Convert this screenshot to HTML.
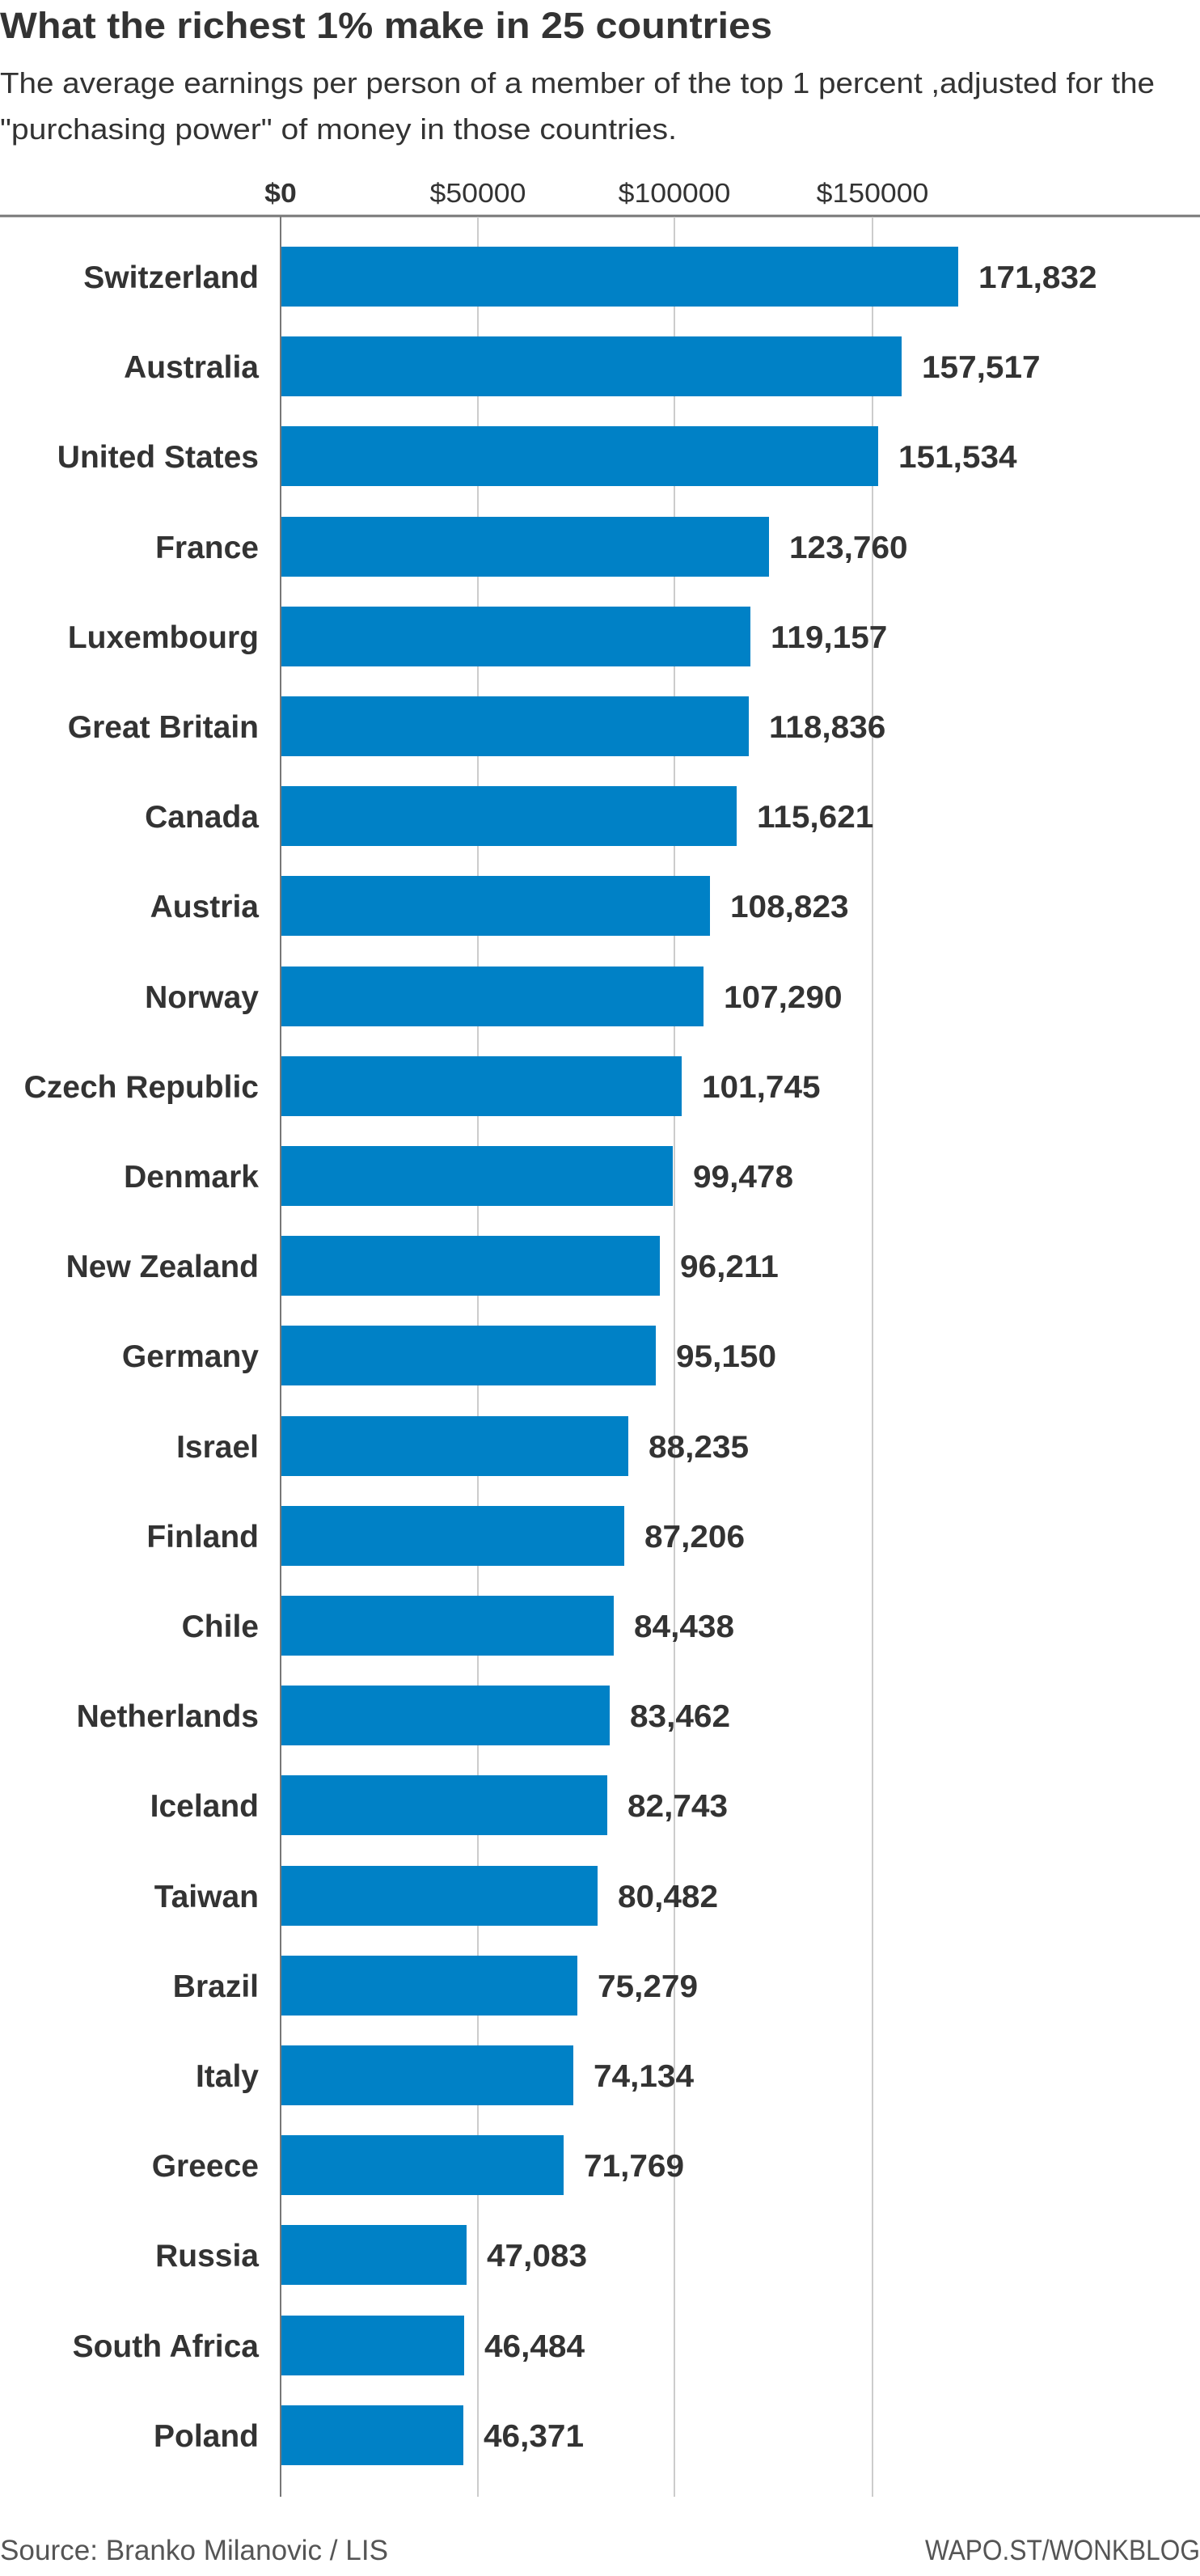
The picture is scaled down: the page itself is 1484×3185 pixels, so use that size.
<!DOCTYPE html>
<html><head><meta charset="utf-8"><style>
html,body{margin:0;padding:0;background:#fff;width:1484px;height:3185px;overflow:hidden}
svg{display:block}
text{font-family:"Liberation Sans",Arial,sans-serif;fill:#333}
.l{font-weight:bold;font-size:39px;text-anchor:end}
.v{font-weight:bold;font-size:39px}
.t{font-size:33px;text-anchor:middle}
</style></head><body>
<svg width="1484" height="3185" viewBox="0 0 1484 3185" xmlns="http://www.w3.org/2000/svg">
<text x="0" y="47" font-size="45" font-weight="bold" textLength="955" lengthAdjust="spacingAndGlyphs">What the richest 1% make in 25 countries</text>
<text x="0" y="115" font-size="36" textLength="1428" lengthAdjust="spacingAndGlyphs">The average earnings per person of a member of the top 1 percent ,adjusted for the</text>
<text x="0" y="172" font-size="36" textLength="837" lengthAdjust="spacingAndGlyphs">"purchasing power" of money in those countries.</text>
<g transform="translate(347,250) scale(1.08,1)"><text class="t" x="0" y="0" font-weight="bold">$0</text></g>
<g transform="translate(591,250) scale(1.08,1)"><text class="t" x="0" y="0">$50000</text></g>
<g transform="translate(834,250) scale(1.08,1)"><text class="t" x="0" y="0">$100000</text></g>
<g transform="translate(1079,250) scale(1.08,1)"><text class="t" x="0" y="0">$150000</text></g>
<line x1="0" y1="267" x2="1484" y2="267" stroke="#777" stroke-width="3"/>
<line x1="591" y1="268" x2="591" y2="3087" stroke="#ccc" stroke-width="2"/>
<line x1="834" y1="268" x2="834" y2="3087" stroke="#ccc" stroke-width="2"/>
<line x1="1079" y1="268" x2="1079" y2="3087" stroke="#ccc" stroke-width="2"/>
<g fill="#0081c6">
<rect x="347" y="305" width="838" height="74"/>
<rect x="347" y="416" width="768" height="74"/>
<rect x="347" y="527" width="739" height="74"/>
<rect x="347" y="639" width="604" height="74"/>
<rect x="347" y="750" width="581" height="74"/>
<rect x="347" y="861" width="579" height="74"/>
<rect x="347" y="972" width="564" height="74"/>
<rect x="347" y="1083" width="531" height="74"/>
<rect x="347" y="1195" width="523" height="74"/>
<rect x="347" y="1306" width="496" height="74"/>
<rect x="347" y="1417" width="485" height="74"/>
<rect x="347" y="1528" width="469" height="74"/>
<rect x="347" y="1639" width="464" height="74"/>
<rect x="347" y="1751" width="430" height="74"/>
<rect x="347" y="1862" width="425" height="74"/>
<rect x="347" y="1973" width="412" height="74"/>
<rect x="347" y="2084" width="407" height="74"/>
<rect x="347" y="2195" width="404" height="74"/>
<rect x="347" y="2307" width="392" height="74"/>
<rect x="347" y="2418" width="367" height="74"/>
<rect x="347" y="2529" width="362" height="74"/>
<rect x="347" y="2640" width="350" height="74"/>
<rect x="347" y="2751" width="230" height="74"/>
<rect x="347" y="2863" width="227" height="74"/>
<rect x="347" y="2974" width="226" height="74"/>
</g>
<line x1="347" y1="268" x2="347" y2="3087" stroke="#777" stroke-width="2"/>
<g transform="translate(320,0) scale(1.0,1)">
<text class="l" x="0" y="356">Switzerland</text>
<text class="l" x="0" y="467">Australia</text>
<text class="l" x="0" y="578">United States</text>
<text class="l" x="0" y="690">France</text>
<text class="l" x="0" y="801">Luxembourg</text>
<text class="l" x="0" y="912">Great Britain</text>
<text class="l" x="0" y="1023">Canada</text>
<text class="l" x="0" y="1134">Austria</text>
<text class="l" x="0" y="1246">Norway</text>
<text class="l" x="0" y="1357">Czech Republic</text>
<text class="l" x="0" y="1468">Denmark</text>
<text class="l" x="0" y="1579">New Zealand</text>
<text class="l" x="0" y="1690">Germany</text>
<text class="l" x="0" y="1802">Israel</text>
<text class="l" x="0" y="1913">Finland</text>
<text class="l" x="0" y="2024">Chile</text>
<text class="l" x="0" y="2135">Netherlands</text>
<text class="l" x="0" y="2246">Iceland</text>
<text class="l" x="0" y="2358">Taiwan</text>
<text class="l" x="0" y="2469">Brazil</text>
<text class="l" x="0" y="2580">Italy</text>
<text class="l" x="0" y="2691">Greece</text>
<text class="l" x="0" y="2802">Russia</text>
<text class="l" x="0" y="2914">South Africa</text>
<text class="l" x="0" y="3025">Poland</text>
</g>
<g>
<g transform="translate(1210,356) scale(1.04,1)"><text class="v">171,832</text></g>
<g transform="translate(1140,467) scale(1.04,1)"><text class="v">157,517</text></g>
<g transform="translate(1111,578) scale(1.04,1)"><text class="v">151,534</text></g>
<g transform="translate(976,690) scale(1.04,1)"><text class="v">123,760</text></g>
<g transform="translate(953,801) scale(1.04,1)"><text class="v">119,157</text></g>
<g transform="translate(951,912) scale(1.04,1)"><text class="v">118,836</text></g>
<g transform="translate(936,1023) scale(1.04,1)"><text class="v">115,621</text></g>
<g transform="translate(903,1134) scale(1.04,1)"><text class="v">108,823</text></g>
<g transform="translate(895,1246) scale(1.04,1)"><text class="v">107,290</text></g>
<g transform="translate(868,1357) scale(1.04,1)"><text class="v">101,745</text></g>
<g transform="translate(857,1468) scale(1.04,1)"><text class="v">99,478</text></g>
<g transform="translate(841,1579) scale(1.04,1)"><text class="v">96,211</text></g>
<g transform="translate(836,1690) scale(1.04,1)"><text class="v">95,150</text></g>
<g transform="translate(802,1802) scale(1.04,1)"><text class="v">88,235</text></g>
<g transform="translate(797,1913) scale(1.04,1)"><text class="v">87,206</text></g>
<g transform="translate(784,2024) scale(1.04,1)"><text class="v">84,438</text></g>
<g transform="translate(779,2135) scale(1.04,1)"><text class="v">83,462</text></g>
<g transform="translate(776,2246) scale(1.04,1)"><text class="v">82,743</text></g>
<g transform="translate(764,2358) scale(1.04,1)"><text class="v">80,482</text></g>
<g transform="translate(739,2469) scale(1.04,1)"><text class="v">75,279</text></g>
<g transform="translate(734,2580) scale(1.04,1)"><text class="v">74,134</text></g>
<g transform="translate(722,2691) scale(1.04,1)"><text class="v">71,769</text></g>
<g transform="translate(602,2802) scale(1.04,1)"><text class="v">47,083</text></g>
<g transform="translate(599,2914) scale(1.04,1)"><text class="v">46,484</text></g>
<g transform="translate(598,3025) scale(1.04,1)"><text class="v">46,371</text></g>
</g>
<text x="0" y="3165" font-size="35" style="fill:#555" textLength="480" lengthAdjust="spacingAndGlyphs">Source: Branko Milanovic / LIS</text>
<text x="1144" y="3165" font-size="35" style="fill:#555" textLength="340" lengthAdjust="spacingAndGlyphs">WAPO.ST/WONKBLOG</text>
</svg>
</body></html>
